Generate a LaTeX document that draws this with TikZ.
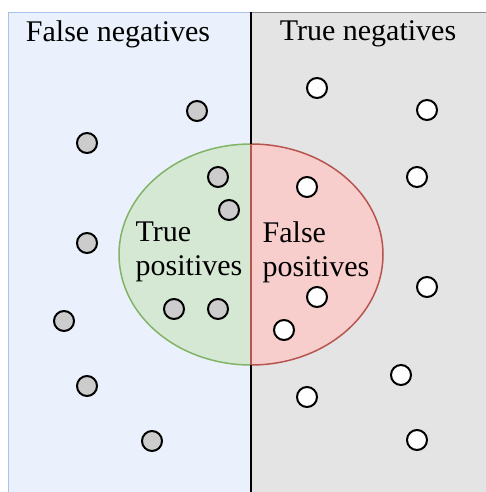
\documentclass[tikz,border=0pt]{standalone}
\usepackage{fontspec}
\setmainfont{Liberation Serif}
\definecolor{bluefill}{HTML}{EAF1FC}
\definecolor{blueline}{HTML}{A9C4EB}
\definecolor{grayfill}{HTML}{E4E4E4}
\definecolor{grayline}{HTML}{8A8A8A}
\definecolor{greenfill}{HTML}{D5E8D4}
\definecolor{greenline}{HTML}{82B366}
\definecolor{redfill}{HTML}{F8CECC}
\definecolor{redline}{HTML}{B85450}
\definecolor{dotgray}{HTML}{CCCCCC}
\tikzset{
  dotg/.style={circle,draw=black,line width=2pt,fill=dotgray,minimum size=20pt,inner sep=0pt},
  dotw/.style={circle,draw=black,line width=2pt,fill=white,minimum size=20pt,inner sep=0pt},
  lbl/.style={font=\fontsize{30}{34}\selectfont,inner sep=0pt,align=left}
}
\begin{document}
\begin{tikzpicture}[x=1pt,y=-1pt]
\useasboundingbox (0,0) rectangle (485,492);
% panels
\fill[bluefill] (8.5,12.5) rectangle (250.5,495);
\draw[blueline,line width=1.2pt] (8.5,495) -- (8.5,12.5) -- (250.5,12.5);
\fill[grayfill] (250.5,12.5) rectangle (490,495);
\draw[grayline,line width=1.2pt] (250.5,12.5) -- (490,12.5);
% ellipse halves
\coordinate (ec) at (251,254.5);
\begin{scope}
\clip (0,0) rectangle (251,492);
\draw[greenline,fill=greenfill,line width=1.5pt] (ec) ellipse [x radius=132pt,y radius=110.5pt];
\end{scope}
\begin{scope}
\clip (251,0) rectangle (485,492);
\draw[redline,fill=redfill,line width=1.5pt] (ec) ellipse [x radius=132pt,y radius=110.5pt];
\end{scope}
\draw[redline,line width=1.5pt] (251,144) -- (251,365);
% divider
\draw[black,line width=2pt] (250.5,12.5) -- (250.5,144);
\draw[black,line width=2pt] (250.5,365) -- (250.5,495);
% labels
\node[lbl] (fn) at (118,34) {False negatives};
\node[lbl] (tn) at (368,34) {True negatives};
\node[lbl] (tp) at (189,252) {True\\positives};
\node[lbl] (fp) at (316,252) {False\\positives};
% gray dots
\foreach \p [count=\i] in {(197,111),(87,143),(218,177),(229,210),(87,243),(64,321),(174,309),(218,309),(87,386),(152,441)}
  \node[dotg] (g\i) at \p {};
% white dots
\foreach \p [count=\i] in {(317,88),(427,110),(417,177),(307,187),(427,287),(317,297),(284,330),(401,375),(307,397),(417,440)}
  \node[dotw] (w\i) at \p {};
\end{tikzpicture}
\end{document}
